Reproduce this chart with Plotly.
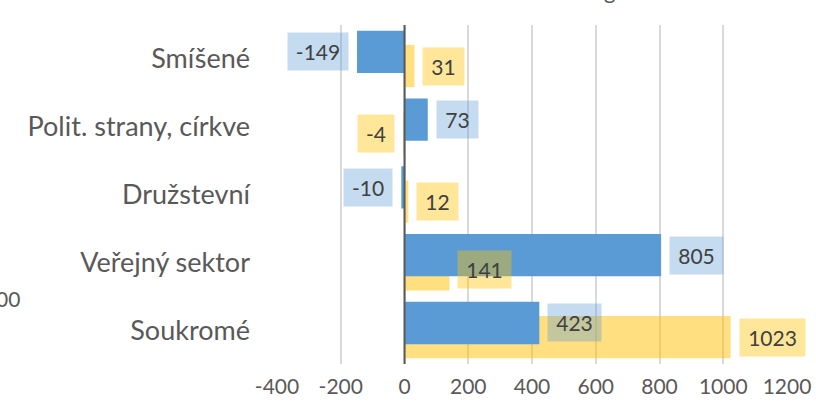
import plotly.graph_objects as go

categories = ["Soukromé", "Veřejný sektor", "Družstevní", "Polit. strany, církve", "Smíšené"]
blue_values = [423, 805, -10, 73, -149]
yellow_values = [1023, 141, 12, -4, 31]
x_ticks = [-400, -200, 0, 200, 400, 600, 800, 1000, 1200]

FONT = "Lato"
BLUE = "#5B9BD5"
YELLOW = "rgba(255,192,0,0.5)"
BLUE_BOX = "rgba(91,155,213,0.36)"
YELLOW_BOX = "rgba(255,192,0,0.40)"

BAR_W = 0.624
SHIFT = 0.105

W, H = 816, 409
ML, MR, MT, MB = 277, 29, 25, 45

fig = go.Figure()
idx = list(range(len(categories)))

fig.add_trace(go.Bar(
    y=idx, x=yellow_values, orientation="h",
    marker=dict(color=YELLOW, line=dict(width=0)),
    width=BAR_W, offset=-SHIFT - BAR_W / 2, name="yellow", hoverinfo="x",
))
fig.add_trace(go.Bar(
    y=idx, x=blue_values, orientation="h",
    marker=dict(color=BLUE, line=dict(width=0)),
    width=BAR_W, offset=SHIFT - BAR_W / 2, name="blue", hoverinfo="x",
))

def box_width(v):
    s = str(v)
    digits = sum(c.isdigit() for c in s)
    return 7 + 12 * digits + (7 if v < 0 else 0)

annotations = []
for values, shift, bg in ((blue_values, SHIFT, BLUE_BOX), (yellow_values, -SHIFT, YELLOW_BOX)):
    for i, v in enumerate(values):
        annotations.append(dict(
            x=v, y=i + shift, xref="x", yref="y",
            text=str(v), showarrow=False,
            xanchor="left" if v >= 0 else "right", yanchor="middle",
            xshift=8 if v >= 0 else -8,
            bgcolor=bg, borderpad=5, width=box_width(v), height=27,
            font=dict(family=FONT, size=21, color="#404040"),
        ))

# partially visible texts clipped at the figure edges
pw = W - ML - MR
ph = H - MT - MB
annotations.append(dict(
    x=(22 - ML) / pw, y=(H - MB - 298) / ph, xref="paper", yref="paper",
    text="00", showarrow=False, xanchor="right", yanchor="middle",
    font=dict(family=FONT, size=21, color="#595959"),
))
annotations.append(dict(
    x=(609 - ML) / pw, y=(H - MB + 9) / ph, xref="paper", yref="paper",
    text="g", showarrow=False, xanchor="center", yanchor="middle",
    font=dict(family=FONT, size=22, color="#595959"),
))

fig.update_layout(
    width=W, height=H,
    margin=dict(l=ML, r=MR, t=MT, b=MB, autoexpand=False),
    barmode="overlay",
    plot_bgcolor="white", paper_bgcolor="white",
    showlegend=False,
    font=dict(family=FONT, size=20, color="#595959"),
    annotations=annotations,
    xaxis=dict(
        range=[-400, 1200], tickvals=x_ticks, ticktext=[str(t) for t in x_ticks],
        showgrid=True, gridcolor="#D9D9D9", gridwidth=1.5,
        zeroline=False, showline=False, ticks="", ticklabelstandoff=8,
        tickfont=dict(family=FONT, size=21, color="#595959"),
        automargin=False,
    ),
    yaxis=dict(
        range=[-0.5, 4.5], tickvals=idx, ticktext=categories,
        showgrid=False, zeroline=False, showline=False, ticks="",
        ticklabelstandoff=26,
        tickfont=dict(family=FONT, size=27, color="#595959"),
        automargin=False,
    ),
    shapes=[dict(
        type="line", xref="x", yref="paper", x0=0, x1=0, y0=0, y1=1,
        line=dict(color="#595959", width=2), layer="above",
    )],
)

fig.write_html(
    "out.html",
    config={"displayModeBar": False},
    post_script="document.body.style.margin='0';",
)
